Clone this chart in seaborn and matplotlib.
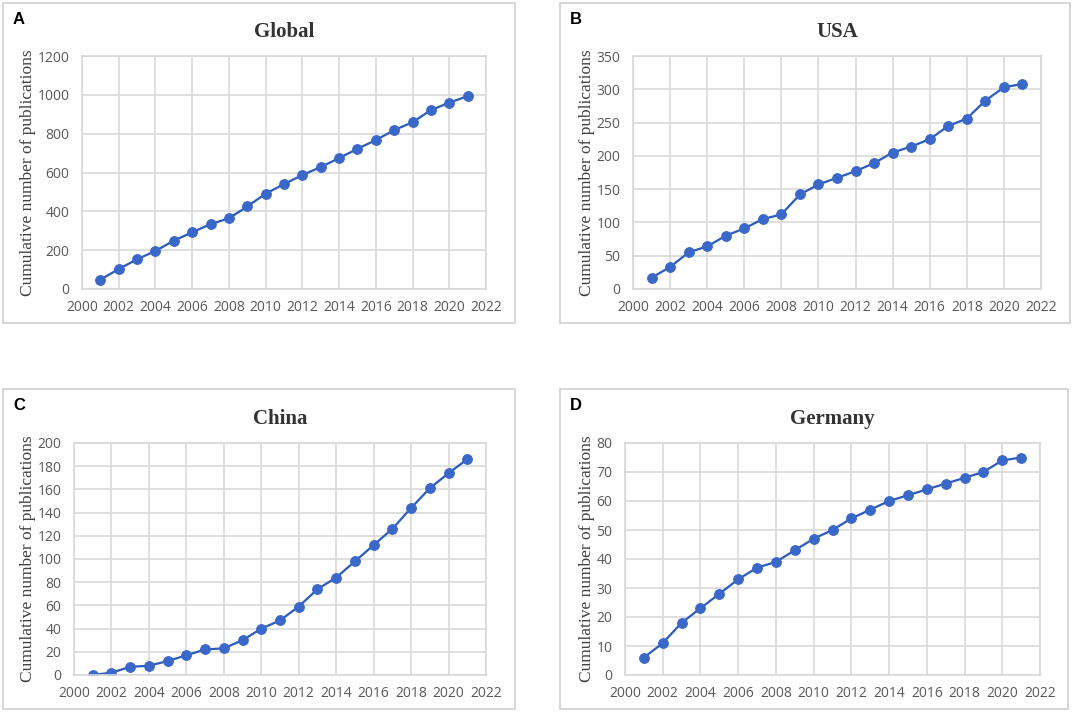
import pandas as pd
import numpy as np
import matplotlib
matplotlib.use("Agg")
import matplotlib.pyplot as plt
from matplotlib.patches import Rectangle
import seaborn as sns

# dados
years = list(range(2001, 2022))
global_pubs = [48, 103, 153, 196, 249, 292, 334, 364, 425, 491, 540,
               587, 628, 674, 722, 767, 818, 859, 921, 960, 993]
usa_pubs = [17, 33, 55, 64, 80, 91, 105, 112, 142, 157, 167,
            177, 189, 205, 214, 225, 245, 256, 283, 303, 308]
china_pubs = [0, 2, 7, 8, 12, 17, 22, 23, 30, 40, 47,
              59, 74, 84, 98, 112, 126, 144, 161, 174, 186]
germany_pubs = [6, 11, 18, 23, 28, 33, 37, 39, 43, 47, 50,
                54, 57, 60, 62, 64, 66, 68, 70, 74, 75]

titles = ["Global", "USA", "China", "Germany"]
letters = ["A", "B", "C", "D"]
ylims = [1200, 350, 200, 80]
ysteps = [200, 50, 20, 10]
xticks = list(range(2000, 2023, 2))

sns.set_theme(style="white")

fig = plt.figure(figsize=(10.84, 7.12), dpi=100)

W, H = 1084, 712
# caixas dos painéis e áreas dos eixos em pixels (x0, y0, x1, y1)
boxes = [(3, 3, 515, 323), (560, 3, 1070, 323),
         (3, 389, 515, 709), (560, 389, 1068, 709)]
areas = [(82, 56, 486, 289), (633, 56, 1041, 289),
         (74, 443, 486, 675), (625, 443, 1040, 675)]

series = [global_pubs, usa_pubs, china_pubs, germany_pubs]
line_col = "#2A5BC0"
grid_col = "#D9D9D9"

for i in range(4):
    bx0, by0, bx1, by1 = boxes[i]
    fig.patches.append(Rectangle((bx0 / W, 1 - by1 / H), (bx1 - bx0) / W, (by1 - by0) / H,
                                 transform=fig.transFigure, fill=False,
                                 edgecolor="#D0D0D0", linewidth=1.2))
    ax0, ay0, ax1, ay1 = areas[i]
    ax = fig.add_axes([ax0 / W, 1 - ay1 / H, (ax1 - ax0) / W, (ay1 - ay0) / H])

    df = pd.DataFrame({"year": years, "n": series[i]})
    sns.lineplot(data=df, x="year", y="n", ax=ax, color=line_col, linewidth=1.6,
                 marker="o", markersize=7, markerfacecolor="#3A68C8",
                 markeredgecolor="#3A68C8")

    ax.set_xlim(2000, 2022)
    ax.set_ylim(0, ylims[i])
    ax.set_xticks(xticks)
    ax.set_yticks(np.arange(0, ylims[i] + 1, ysteps[i]))
    ax.grid(True, color=grid_col, linewidth=1.2)
    ax.set_axisbelow(True)
    for s in ax.spines.values():
        s.set_color(grid_col)
        s.set_linewidth(1.2)
    ax.tick_params(axis="both", length=0, labelsize=10, labelcolor="#595959")
    ax.tick_params(axis="x", pad=8)
    ax.tick_params(axis="y", pad=9)
    for lab in ax.get_xticklabels() + ax.get_yticklabels():
        lab.set_fontfamily("Open Sans")
    ax.set_xlabel("")
    ax.set_ylabel("Cumulative number of publications", fontfamily="Liberation Serif",
                  fontsize=12.5, color="#404040", labelpad=1)
    ax.set_title(titles[i], fontfamily="Liberation Serif", fontweight="bold",
                 fontsize=15, color="#333333", pad=14)

    fig.text((bx0 + 10) / W, 1 - (by0 + 17) / H, letters[i], fontfamily="Liberation Sans",
             fontweight="bold", fontsize=12, color="black", va="center", ha="left")

fig.savefig("out.png", dpi=100)
